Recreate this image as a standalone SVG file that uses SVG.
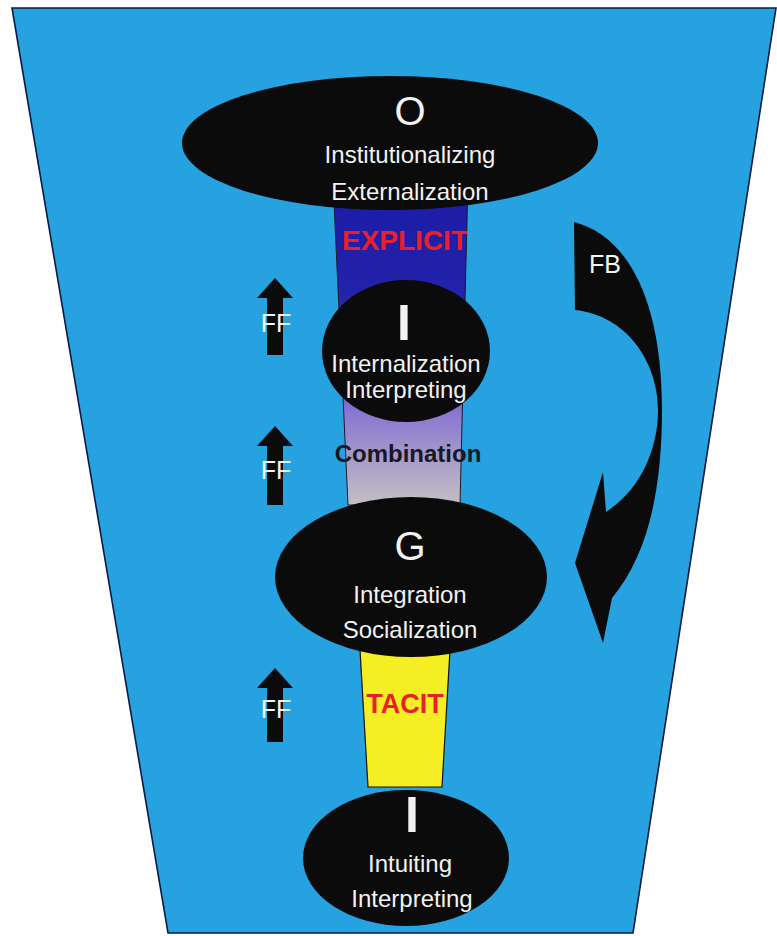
<svg xmlns="http://www.w3.org/2000/svg" width="777" height="936" viewBox="0 0 777 936">
  <defs>
    <linearGradient id="funnelGrad" x1="0" y1="180" x2="0" y2="505" gradientUnits="userSpaceOnUse">
      <stop offset="0" stop-color="#1b1ba6"/>
      <stop offset="0.35" stop-color="#2222aa"/>
      <stop offset="0.55" stop-color="#4a3cbc"/>
      <stop offset="0.72" stop-color="#8a78d2"/>
      <stop offset="0.86" stop-color="#a89cc8"/>
      <stop offset="1" stop-color="#c4bec4"/>
    </linearGradient>
    <marker id="none" markerWidth="1" markerHeight="1"/>
  </defs>
  <style>
    .node { fill: #0b0b0b; }
    .label { font-family: "Liberation Sans", Arial, sans-serif; fill: #f2f2f2; text-anchor: middle; }
    .big { font-size: 40px; }
    .tall { font-size: 50px; font-weight: bold; }
    .sub { font-size: 24px; }
    .stage { font-family: "Liberation Sans", Arial, sans-serif; font-weight: bold; text-anchor: middle; fill: #e8202a; }
    .flow { fill: #0b0b0b; }
    .flowtext { font-family: "Liberation Sans", Arial, sans-serif; font-size: 25px; fill: #f4f4f4; text-anchor: middle; }
  </style>

  <!-- background funnel -->
  <rect x="0" y="0" width="777" height="936" fill="#ffffff"/>
  <polygon points="12,8 776,8 633,933 168,933" fill="#26a2e0" stroke="#0c1a40" stroke-width="1.6"/>

  <!-- knowledge column: explicit (top) to combination -->
  <polygon points="333,180 468,180 460,505 348,505" fill="url(#funnelGrad)" stroke="#1a1a2a" stroke-width="1"/>
  <!-- knowledge column: tacit -->
  <polygon points="360,650 450,650 442,787 368,787" fill="#f4ee22" stroke="#111111" stroke-width="1.2"/>

  <text class="stage" x="405" y="250" font-size="28">EXPLICIT</text>
  <text x="408" y="462" font-family="Liberation Sans, Arial, sans-serif" font-size="24" font-weight="bold" fill="#1a1626" text-anchor="middle">Combination</text>
  <text class="stage" x="405" y="713" font-size="27">TACIT</text>

  <!-- connectors: feed-forward and feedback arrows -->
  <g id="connectors">
    <g id="ff1">
      <polygon class="flow" points="275,278 293,298 283,298 283,355 267,355 267,298 257,298"/>
      <text class="flowtext" x="276" y="332">FF</text>
    </g>
    <g id="ff2">
      <polygon class="flow" points="275,426 293,446 283,446 283,505 267,505 267,446 257,446"/>
      <text class="flowtext" x="276" y="479">FF</text>
    </g>
    <g id="ff3">
      <polygon class="flow" points="275,668 293,688 283,688 283,742 267,742 267,688 257,688"/>
      <text class="flowtext" x="276" y="718">FF</text>
    </g>
    <g id="fb">
      <path class="flow" d="M574,222 C628,236 662,300 662,410 C662,490 648,555 612,598 L603,643 L575,563 L603,472 L606,512 C640,490 658,450 658,410 C658,360 625,315 575,310 Z"/>
      <text class="flowtext" x="605" y="273">FB</text>
    </g>
  </g>

  <!-- nodes -->
  <g id="node-organization">
    <ellipse class="node" cx="390" cy="143" rx="208" ry="67"/>
    <text class="label big" x="410" y="125">O</text>
    <text class="label sub" x="410" y="163">Institutionalizing</text>
    <text class="label sub" x="410" y="200">Externalization</text>
  </g>

  <g id="node-individual-upper">
    <ellipse class="node" cx="406" cy="351" rx="84" ry="71"/>
    <text class="label tall" x="404" y="340">I</text>
    <text class="label sub" x="406" y="372">Internalization</text>
    <text class="label sub" x="406" y="398">Interpreting</text>
  </g>

  <g id="node-group">
    <ellipse class="node" cx="411" cy="577" rx="136" ry="80"/>
    <text class="label big" x="410" y="560">G</text>
    <text class="label sub" x="410" y="603">Integration</text>
    <text class="label sub" x="410" y="638">Socialization</text>
  </g>

  <g id="node-individual-lower">
    <ellipse class="node" cx="406" cy="858" rx="103" ry="68"/>
    <text class="label tall" x="412" y="832">I</text>
    <text class="label sub" x="410" y="872">Intuiting</text>
    <text class="label sub" x="412" y="907">Interpreting</text>
  </g>
</svg>
